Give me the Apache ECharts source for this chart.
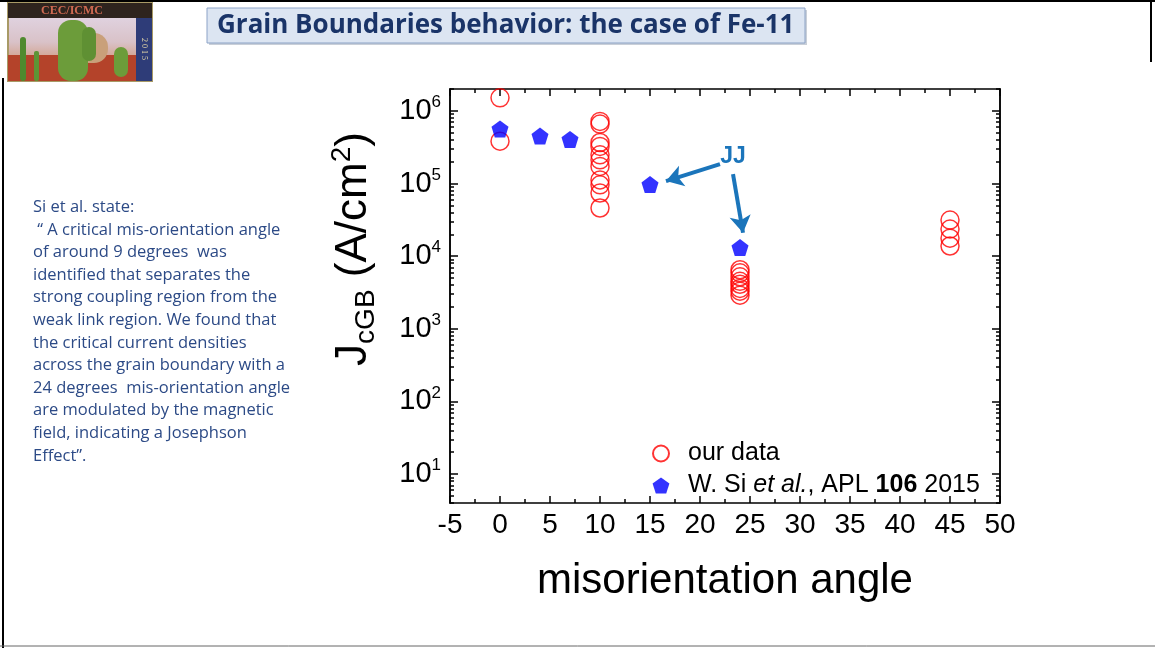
<!DOCTYPE html>
<html>
<head>
<meta charset="utf-8">
<script src="https://cdn.jsdelivr.net/npm/echarts@6/dist/echarts.min.js"></script>
<style>
  html, body { margin: 0; background: #fff; }
  #chart { width: 1155px; height: 648px; }
</style>
</head>
<body>
<div id="chart"></div>
<script>
// our data (open red circles)
var ourAngle = [0, 0, 10, 10, 10, 10, 10, 10, 10, 10, 10, 10, 10, 24, 24, 24, 24, 24, 24, 24, 24, 45, 45, 45, 45]
var ourJc = [1.51e6, 3.83e5, 7.15e5, 6.57e5, 3.67e5, 3.24e5, 2.48e5, 2.12e5, 1.72e5, 1.12e5, 9.6e4, 7.4e4, 4.6e4,
  6.5e3, 5.9e3, 5.2e3, 4.5e3, 4.1e3, 3.6e3, 3.3e3, 2.9e3, 3.14e4, 2.36e4, 1.77e4, 1.38e4]
// W. Si et al. (blue pentagons)
var siAngle = [0, 4, 7, 15, 24]
var siJc = [5.65e5, 4.5e5, 4.05e5, 9.7e4, 1.32e4]

var xTicks = { min: -5, max: 50, step: 5 }
var yMajor = [10, 100, 1000, 10000, 100000, 1000000]
var yMinorMult = [2, 3, 4, 5, 6, 7, 8, 9]

var noteLines = [
  'Si et al. state:',
  ' \u201c A critical mis-orientation angle',
  'of around 9 degrees  was',
  'identified that separates the',
  'strong coupling region from the',
  'weak link region. We found that',
  'the critical current densities',
  'across the grain boundary with a',
  '24 degrees  mis-orientation angle',
  'are modulated by the magnetic',
  'field, indicating a Josephson',
  'Effect\u201d.'
]

var red = '#ff0000'
var blue = '#0000ff'
var arrowBlue = '#1b75bb'
var font = 'Liberation Sans, Arial, sans-serif'

function zip(a, b) {
  return a.map(function (v, i) { return [v, b[i]] })
}

// minor tick positions on the log axis
var yMinor = []
;[1, 10, 100, 1000, 10000, 100000, 1000000].forEach(function (d) {
  yMinorMult.forEach(function (m) { yMinor.push(d * m) })
})

var myChart = echarts.init(document.getElementById('chart'))

function xAx(pos, showLabel) {
  return {
    type: 'value',
    position: pos,
    min: xTicks.min,
    max: xTicks.max,
    interval: xTicks.step,
    axisLine: { onZero: false, lineStyle: { color: '#000', width: 1.5 } },
    axisTick: { inside: true, length: 7, lineStyle: { color: '#000', width: 1.5 } },
    minorTick: { show: true, splitNumber: 2, length: 4, lineStyle: { color: '#000', width: 1.5 } },
    splitLine: { show: false },
    axisLabel: { show: showLabel, color: '#000', fontSize: 28, fontFamily: font, margin: 8 },
    name: showLabel ? 'misorientation angle' : '',
    nameLocation: 'middle',
    nameGap: 57,
    nameTextStyle: { color: '#000', fontSize: 42, fontFamily: font }
  }
}

function yAx(pos, ticks, len, withLabels) {
  var ax = {
    type: 'log',
    position: pos,
    min: 4,
    max: 2e6,
    axisLine: { show: true, onZero: false, lineStyle: { color: '#000', width: 1.5 } },
    axisTick: { inside: true, length: len, customValues: ticks, lineStyle: { color: '#000', width: 1.5 } },
    splitLine: { show: false },
    axisLabel: { show: false }
  }
  if (withLabels) {
    ax.axisLabel = {
      show: true,
      customValues: yMajor,
      margin: 9,
      color: '#000',
      fontSize: 29,
      fontFamily: font,
      lineHeight: 34,
      formatter: function (v) {
        return '10{s|' + Math.round(Math.log10(v)) + '}'
      },
      rich: {
        s: { fontSize: 17, lineHeight: 17, verticalAlign: 'top', color: '#000', fontFamily: font }
      }
    }
    ax.name = 'J{sub|cGB} (A/cm{sup|2})'
    ax.nameLocation = 'middle'
    ax.nameRotate = 90
    ax.nameGap = 70
    ax.nameTextStyle = {
      color: '#000',
      fontSize: 44,
      fontFamily: font,
      lineHeight: 52,
      padding: [0, 0, 0, 94],
      rich: {
        sub: { fontSize: 28, lineHeight: 32, verticalAlign: 'bottom', color: '#000', fontFamily: font },
        sup: { fontSize: 28, lineHeight: 32, verticalAlign: 'top', color: '#000', fontFamily: font }
      }
    }
  }
  return ax
}

var pentagon = 'path://M50,0 L97.6,34.5 L79.4,90.5 L20.6,90.5 L2.4,34.5 Z'

var option = {
  animation: false,
  backgroundColor: '#fff',
  grid: { left: 450, right: 155, top: 89, bottom: 145, outerBoundsMode: 'none' },
  legend: {
    orient: 'vertical',
    left: 647,
    top: 436,
    itemWidth: 44,
    itemHeight: 16,
    itemGap: 7,
    textStyle: {
      color: '#000',
      fontSize: 25,
      fontFamily: font,
      lineHeight: 24,
      rich: {
        i: { fontStyle: 'italic', fontSize: 25, fontFamily: font, color: '#000' },
        b: { fontWeight: 'bold', fontSize: 25, fontFamily: font, color: '#000' }
      }
    },
    formatter: function (name) {
      if (name === 'si') return 'W. Si {i|et al.}, APL {b|106} 2015'
      return 'our data'
    },
    data: ['our', 'si']
  },
  xAxis: [xAx('bottom', true), xAx('top', false)],
  yAxis: [
    yAx('left', yMajor, 8, true),
    yAx('left', yMinor, 4, false),
    yAx('right', yMajor, 8, false),
    yAx('right', yMinor, 4, false)
  ],
  series: [
    {
      name: 'our',
      type: 'scatter',
      symbol: 'circle',
      symbolSize: 18,
      itemStyle: { color: 'rgba(0,0,0,0)', borderColor: red, borderWidth: 1.5 },
      data: zip(ourAngle, ourJc)
    },
    {
      name: 'si',
      type: 'scatter',
      symbol: pentagon,
      symbolSize: 17,
      itemStyle: { color: blue },
      data: zip(siAngle, siJc),
      markLine: {
        silent: true,
        symbol: ['none', 'arrow'],
        symbolSize: [16, 17],
        label: { show: false },
        lineStyle: { color: arrowBlue, width: 4, type: 'solid' },
        data: [
          [{ coord: [22, 1.85e5] }, { coord: [16.6, 1.08e5] }],
          [{ coord: [23.3, 1.35e5] }, { coord: [24.3, 2.1e4] }]
        ]
      },
      markPoint: {
        silent: true,
        symbol: 'circle',
        symbolSize: 1,
        itemStyle: { color: 'rgba(0,0,0,0)' },
        label: { show: true, position: 'inside', color: arrowBlue, fontSize: 23, fontWeight: 'bold', fontFamily: font },
        data: [{ coord: [23.3, 2.38e5], value: 'JJ' }]
      }
    }
  ],
  graphic: [
    // slide border
    { type: 'line', shape: { x1: 0, y1: 1, x2: 1155, y2: 1 }, style: { stroke: '#000', lineWidth: 2 } },
    { type: 'line', shape: { x1: 3, y1: 78, x2: 3, y2: 648 }, style: { stroke: '#000', lineWidth: 2 } },
    { type: 'line', shape: { x1: 1151, y1: 0, x2: 1151, y2: 62 }, style: { stroke: '#000', lineWidth: 2 } },
    { type: 'line', shape: { x1: 0, y1: 646, x2: 1155, y2: 646 }, style: { stroke: '#666', lineWidth: 1 } },
    // logo
    {
      type: 'group',
      left: 7,
      top: 2,
      children: [
        { type: 'rect', shape: { x: 0, y: 0, width: 144, height: 78 },
          style: { fill: new echarts.graphic.LinearGradient(0, 0, 0, 1, [
            { offset: 0, color: '#e4dcee' }, { offset: 0.5, color: '#d9c2c8' }, { offset: 1, color: '#c9773e' }]),
            stroke: '#a89a66', lineWidth: 2 } },
        { type: 'rect', shape: { x: 0, y: 52, width: 128, height: 26 }, style: { fill: '#b4432a' } },
        { type: 'rect', shape: { x: 60, y: 30, width: 40, height: 30, r: 14 }, style: { fill: '#c9a07a' } },
        { type: 'rect', shape: { x: 12, y: 34, width: 6, height: 44, r: 3 }, style: { fill: '#4f8a2e' } },
        { type: 'rect', shape: { x: 26, y: 48, width: 5, height: 30, r: 2 }, style: { fill: '#5d9535' } },
        { type: 'rect', shape: { x: 50, y: 17, width: 30, height: 61, r: 13 }, style: { fill: '#6c9c3a' } },
        { type: 'rect', shape: { x: 74, y: 24, width: 14, height: 34, r: 7 }, style: { fill: '#5f9033' } },
        { type: 'rect', shape: { x: 106, y: 44, width: 14, height: 30, r: 7 }, style: { fill: '#6c9c3a' } },
        { type: 'rect', shape: { x: 0, y: 0, width: 144, height: 15 }, style: { fill: '#2e241e' } },
        { type: 'text', style: { x: 64, y: 8, text: 'CEC/ICMC', fill: '#cf6a52', font: 'bold 12px Liberation Serif', align: 'center', verticalAlign: 'middle' } },
        { type: 'rect', shape: { x: 128, y: 15, width: 16, height: 63 }, style: { fill: '#2e3c78' } },
        { type: 'text', rotation: -Math.PI / 2, x: 136, y: 46,
          style: { x: 0, y: 0, text: '2 0 1 5', fill: '#e6d9a8', font: '8px Liberation Serif', align: 'center', verticalAlign: 'middle' } }
      ]
    },
    // title box
    { type: 'rect', shape: { x: 209, y: 10, width: 598, height: 35 }, style: { fill: '#c9cfd8' } },
    { type: 'rect', shape: { x: 207, y: 8, width: 598, height: 35 }, style: { fill: '#dce5f2', stroke: '#8ca3c7', lineWidth: 1 } },
    { type: 'text', style: { x: 217, y: 26, text: 'Grain Boundaries behavior: the case of Fe-11', fill: '#1a3468',
      font: 'bold 26px "Open Sans"', verticalAlign: 'middle' } },
    // note on the left
    { type: 'text', style: { x: 33, y: 196, text: noteLines.join('\n'), fill: '#2c4a86',
      font: '16.5px "Open Sans"', lineHeight: 22.6, verticalAlign: 'top' } }
  ]
}

myChart.setOption(option)
</script>
</body>
</html>
